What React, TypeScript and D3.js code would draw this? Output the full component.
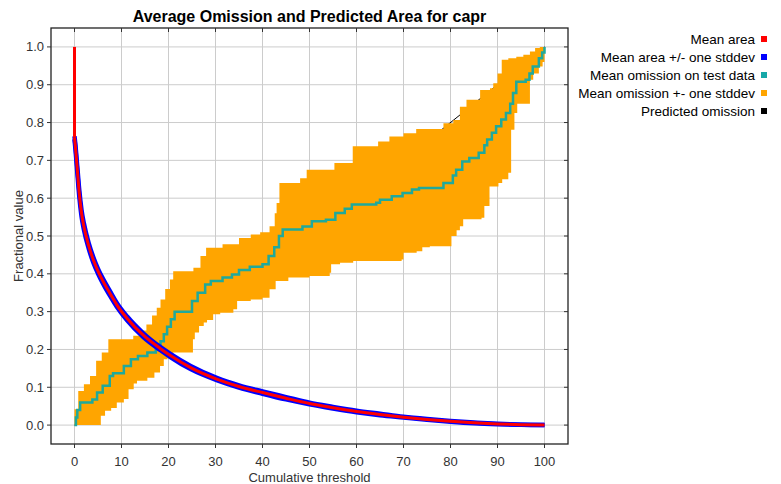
import React from "react";
import * as d3 from "d3";

const W = 781;
const H = 484;

const xTicks = [0, 10, 20, 30, 40, 50, 60, 70, 80, 90, 100];
const yTicks = [0, 0.1, 0.2, 0.3, 0.4, 0.5, 0.6, 0.7, 0.8, 0.9, 1.0];

const titleText = "Average Omission and Predicted Area for capr";
const xLabel = "Cumulative threshold";
const yLabel = "Fractional value";

const legendLabels = [
  "Mean area",
  "Mean area +/- one stddev",
  "Mean omission on test data",
  "Mean omission +- one stddev",
  "Predicted omission",
];
const legendColors = ["#ff0000", "#0000ff", "#17a8a8", "#ffa500", "#000000"];

// Mean predicted area
const areaT = [0, 0, 0.2, 0.6, 1, 1.5, 2, 3, 4, 5, 6, 7.7, 9, 11.2, 14.7, 18.3, 20.4, 24.7, 30.4, 35, 40, 45, 50, 55, 60, 65, 70, 75, 80, 85, 90, 95, 100];
const areaMean = [1.0, 0.76, 0.735, 0.675, 0.615, 0.56, 0.525, 0.475, 0.437, 0.407, 0.382, 0.345, 0.318, 0.282, 0.237, 0.202, 0.184, 0.152, 0.121, 0.102, 0.086, 0.071, 0.057, 0.046, 0.036, 0.028, 0.021, 0.015, 0.01, 0.006, 0.003, 0.001, 0];
const areaSd = [0, 0.004, 0.005, 0.007, 0.008, 0.008, 0.008, 0.007, 0.007, 0.006, 0.006, 0.006, 0.005, 0.005, 0.005, 0.004, 0.004, 0.004, 0.003, 0.003, 0.003, 0.003, 0.002, 0.002, 0.002, 0.002, 0.001, 0.001, 0.001, 0.001, 0.0005, 0, 0];

// Mean omission on test data (step)
const omisT = [0, 0.3, 0.6, 1.2, 3.8, 4.8, 6, 7.5, 8.2, 10.5, 12, 13.5, 15.5, 17.3, 18.3, 19, 19.7, 20.5, 21.3, 25, 26.2, 27.8, 29, 31.5, 33.5, 35, 37.3, 40, 41.3, 42.5, 43.5, 44.3, 48.5, 50.5, 53.5, 55.5, 57.5, 59, 64.2, 65, 67.5, 69.8, 71.8, 73.3, 78.5, 80.5, 81.2, 82.5, 84, 86, 87.2, 87.8, 88.8, 89.7, 90.8, 91.8, 92.7, 93.3, 94, 96, 96.8, 97.5, 98.8, 99.5, 100];
const omisMean = [0, 0.02, 0.04, 0.06, 0.068, 0.086, 0.104, 0.13, 0.137, 0.156, 0.174, 0.183, 0.192, 0.2, 0.222, 0.24, 0.26, 0.28, 0.3, 0.328, 0.35, 0.372, 0.381, 0.39, 0.398, 0.41, 0.419, 0.425, 0.447, 0.47, 0.5, 0.517, 0.525, 0.539, 0.543, 0.561, 0.572, 0.583, 0.588, 0.596, 0.605, 0.614, 0.623, 0.627, 0.64, 0.66, 0.675, 0.697, 0.706, 0.72, 0.74, 0.755, 0.773, 0.79, 0.808, 0.825, 0.85, 0.878, 0.908, 0.913, 0.93, 0.948, 0.97, 0.985, 1.0];

// Mean omission + one stddev (step)
const upperT = [0, 0.8, 2, 3.3, 4.6, 5.8, 7.2, 12.5, 13.7, 15.3, 16.5, 17.5, 18.3, 19.3, 20.3, 21, 25.3, 26.8, 28, 31.5, 35, 37.5, 39.5, 41.5, 42.6, 43, 43.6, 48, 49.4, 55.3, 59.2, 64.6, 67, 70, 72.7, 78.5, 80.6, 82, 83.4, 86.3, 88.4, 89.1, 90, 90.9, 92.3, 94, 95.5, 96.9, 98, 99, 100];
const upperV = [0.042, 0.09, 0.108, 0.13, 0.17, 0.192, 0.227, 0.236, 0.25, 0.266, 0.29, 0.31, 0.332, 0.36, 0.385, 0.407, 0.416, 0.447, 0.469, 0.478, 0.495, 0.504, 0.51, 0.526, 0.56, 0.587, 0.64, 0.653, 0.675, 0.693, 0.737, 0.75, 0.763, 0.772, 0.783, 0.798, 0.807, 0.842, 0.86, 0.886, 0.891, 0.904, 0.93, 0.966, 0.97, 0.974, 0.979, 0.988, 0.997, 1.0, 1.0];

// Mean omission - one stddev (step)
const lowerT = [0, 5.6, 6.5, 7.8, 9, 10.5, 11.5, 12.6, 13.3, 15.5, 17, 18.2, 19, 19.8, 21, 25.2, 25.6, 26.5, 27.5, 28.2, 29.5, 31, 33.8, 34.6, 37.5, 40, 41.5, 42.8, 45.5, 50, 54.3, 54.6, 56.5, 59.3, 69.6, 70, 72.8, 74, 75.6, 80.2, 81.3, 82, 82.7, 86.6, 87.2, 88.3, 90.2, 91, 92.3, 92.9, 93.6, 94.2, 96.9, 97.6, 98.8, 99.6, 100];
const lowerV = [0, 0.025, 0.038, 0.045, 0.06, 0.069, 0.095, 0.11, 0.117, 0.125, 0.139, 0.156, 0.174, 0.183, 0.192, 0.227, 0.245, 0.262, 0.271, 0.278, 0.293, 0.297, 0.306, 0.328, 0.332, 0.337, 0.359, 0.381, 0.39, 0.394, 0.403, 0.425, 0.429, 0.434, 0.438, 0.456, 0.46, 0.47, 0.473, 0.5, 0.515, 0.526, 0.544, 0.548, 0.579, 0.631, 0.64, 0.65, 0.667, 0.781, 0.825, 0.85, 0.913, 0.93, 0.948, 0.96, 0.96];

// Predicted omission
const predT = [0, 100];
const predV = [0, 1];

const FONT = "'Liberation Sans', Arial, sans-serif";

function stepAt(ts: number[], vs: number[], t: number) {
  let v = vs[0];
  for (let i = 0; i < ts.length; i++) {
    if (ts[i] <= t) v = vs[i];
    else break;
  }
  return v;
}

export default function App() {
  const left = 51, right = 568, top = 28, bottom = 444;
  const x = d3.scaleLinear().domain([-5, 105]).range([left, right]);
  const y = d3.scaleLinear().domain([-0.05, 1.05]).range([bottom, top]);

  const grid = Array.from(new Set([...upperT, ...lowerT])).sort((a, b) => a - b);
  const band = grid.map((t) => ({ t, lo: stepAt(lowerT, lowerV, t), hi: stepAt(upperT, upperV, t) }));
  const bandPath = d3
    .area<{ t: number; lo: number; hi: number }>()
    .x((d) => x(d.t))
    .y0((d) => y(d.lo))
    .y1((d) => y(d.hi))
    .curve(d3.curveStepAfter)(band) as string;

  const omisPath = d3
    .line<number>()
    .x((_, i) => x(omisT[i]))
    .y((d) => y(d))
    .curve(d3.curveStepAfter)(omisMean) as string;

  const predPath = d3
    .line<number>()
    .x((_, i) => x(predT[i]))
    .y((d) => y(d))(predV) as string;

  const idx = areaT.map((_, i) => i);
  const curveIdx = idx.slice(1);
  const meanCurve = d3
    .line<number>()
    .x((i) => x(areaT[i]))
    .y((i) => y(areaMean[i]))
    .curve(d3.curveMonotoneX)(curveIdx) as string;
  const meanDrop = d3
    .line<number>()
    .x((i) => x(areaT[i]))
    .y((i) => y(areaMean[i]))([0, 1]) as string;
  const upperArea = d3
    .line<number>()
    .x((i) => x(areaT[i]))
    .y((i) => y(areaMean[i] + areaSd[i]))
    .curve(d3.curveMonotoneX)(curveIdx) as string;
  const lowerArea = d3
    .line<number>()
    .x((i) => x(areaT[i]))
    .y((i) => y(areaMean[i] - areaSd[i]))
    .curve(d3.curveMonotoneX)(curveIdx) as string;

  return (
    <svg width={W} height={H} style={{ position: "absolute", left: 0, top: 0, background: "#fff" }} fontFamily={FONT}>
      <rect x={0} y={0} width={W} height={H} fill="#fff" />
      <defs>
        <clipPath id="plotclip">
          <rect x={left} y={top} width={right - left} height={bottom - top} />
        </clipPath>
      </defs>
      {/* grid */}
      {xTicks.map((t) => (
        <line key={"gx" + t} x1={x(t)} x2={x(t)} y1={top} y2={bottom} stroke="#cccccc" strokeWidth={1} />
      ))}
      {yTicks.map((t) => (
        <line key={"gy" + t} x1={left} x2={right} y1={y(t)} y2={y(t)} stroke="#cccccc" strokeWidth={1} />
      ))}
      <g clipPath="url(#plotclip)">
        <path d={predPath} fill="none" stroke="#000" strokeWidth={1} />
        <path d={bandPath} fill="#ffa500" stroke="none" />
        <path d={omisPath} fill="none" stroke="#1fa99b" strokeWidth={2.5} />
        <path d={upperArea} fill="none" stroke="#0000ff" strokeWidth={4.5} />
        <path d={lowerArea} fill="none" stroke="#0000ff" strokeWidth={4.5} />
        <path d={meanDrop} fill="none" stroke="#ff0000" strokeWidth={3} />
        <path d={meanCurve} fill="none" stroke="#ff0000" strokeWidth={3} />
      </g>
      {/* frame */}
      <rect x={left} y={top} width={right - left} height={bottom - top} fill="none" stroke="#222" strokeWidth={1.3} />
      {/* ticks */}
      {xTicks.map((t) => (
        <g key={"tx" + t}>
          <line x1={x(t)} x2={x(t)} y1={bottom} y2={bottom + 4} stroke="#333" />
          <line x1={x(t)} x2={x(t)} y1={top} y2={top + 4} stroke="#333" />
          <text x={x(t)} y={bottom + 22} textAnchor="middle" fontSize={13} fill="#333">
            {t}
          </text>
        </g>
      ))}
      {yTicks.map((t) => (
        <g key={"ty" + t}>
          <line x1={left - 4} x2={left} y1={y(t)} y2={y(t)} stroke="#333" />
          <line x1={right - 4} x2={right} y1={y(t)} y2={y(t)} stroke="#333" />
          <text x={left - 7} y={y(t) + 4.5} textAnchor="end" fontSize={13} fill="#333">
            {t.toFixed(1)}
          </text>
        </g>
      ))}
      {/* labels */}
      <text x={(left + right) / 2} y={22} textAnchor="middle" fontSize={16} fontWeight="bold" fill="#000">
        {titleText}
      </text>
      <text x={(left + right) / 2} y={482} textAnchor="middle" fontSize={13} fill="#333">
        {xLabel}
      </text>
      <text transform={`translate(23,${(top + bottom) / 2}) rotate(-90)`} textAnchor="middle" fontSize={13} fill="#333">
        {yLabel}
      </text>
      {/* legend */}
      {legendLabels.map((l, i) => (
        <g key={l}>
          <text x={755} y={44 + i * 18} textAnchor="end" fontSize={13.5} fill="#000">
            {l}
          </text>
          <rect x={761} y={36 + i * 18} width={6} height={6} fill={legendColors[i]} />
        </g>
      ))}
    </svg>
  );
}
